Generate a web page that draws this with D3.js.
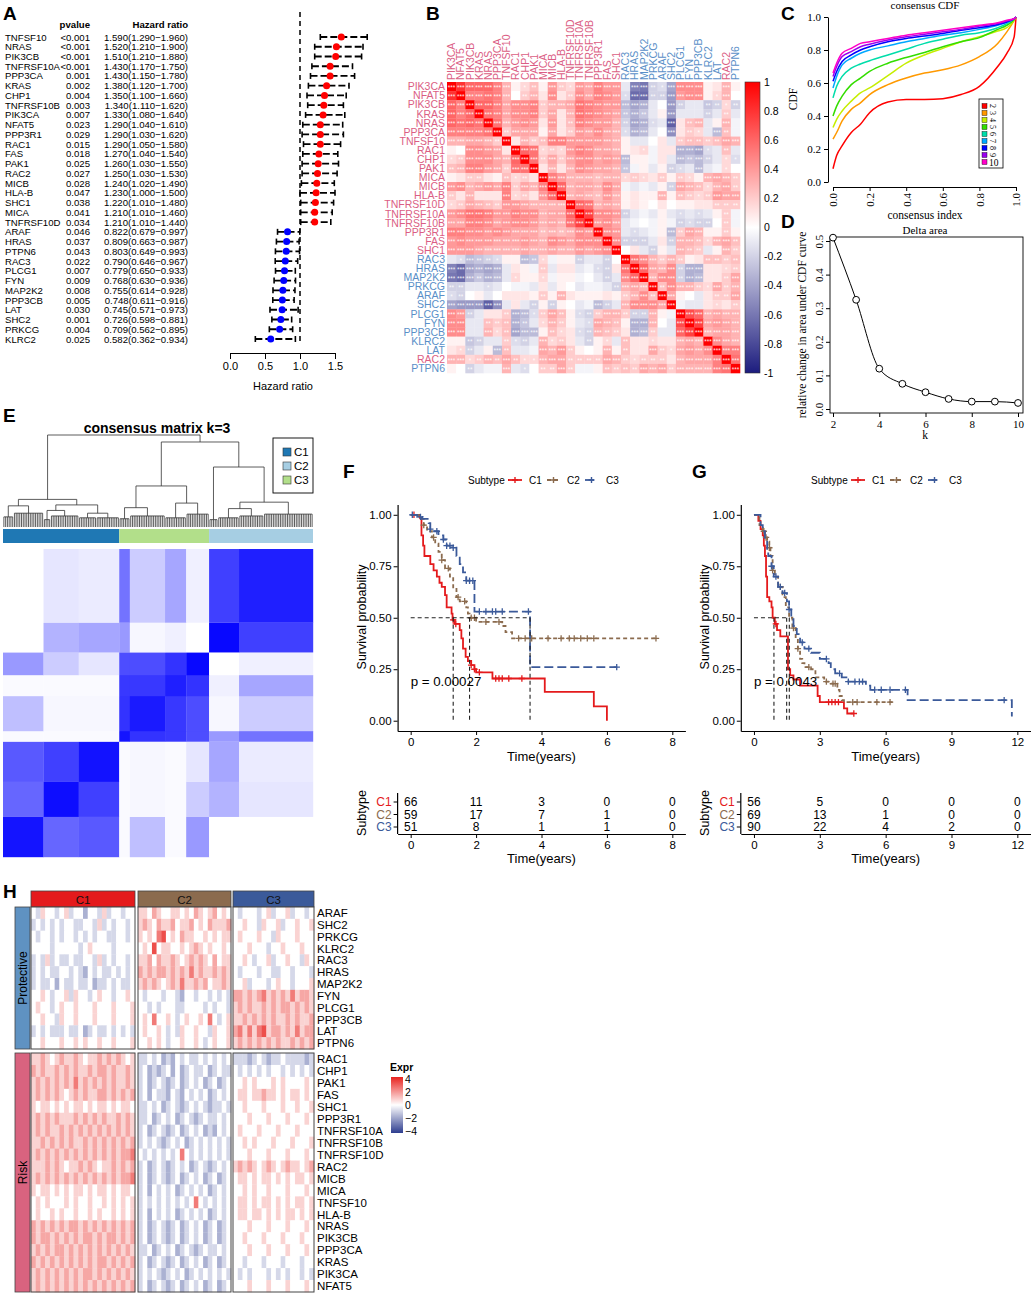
<!DOCTYPE html>
<html>
<head>
<meta charset="utf-8">
<script src="https://cdn.jsdelivr.net/npm/d3@7/dist/d3.min.js"></script>
<style>
html,body{margin:0;padding:0;background:#fff;}
svg{display:block;font-family:"Liberation Sans",Arial,Helvetica,sans-serif;}
</style>
</head>
<body>
<svg id="fig" width="1031" height="1295"></svg>
<script>
// ================= DATA =================
// ---- Panel A: univariate Cox forest ----
const forestGenes = ["TNFSF10","NRAS","PIK3CB","TNFRSF10A","PPP3CA","KRAS","CHP1","TNFRSF10B","PIK3CA","NFAT5","PPP3R1","RAC1","FAS","PAK1","RAC2","MICB","HLA-B","SHC1","MICA","TNFRSF10D","ARAF","HRAS","PTPN6","RAC3","PLCG1","FYN","MAP2K2","PPP3CB","LAT","SHC2","PRKCG","KLRC2"];
const forestP = ["<0.001","<0.001","<0.001","<0.001","0.001","0.002","0.004","0.003","0.007","0.023","0.029","0.015","0.018","0.025","0.027","0.028","0.047","0.038","0.041","0.034","0.046","0.037","0.043","0.022","0.007","0.009","0.008","0.005","0.030","0.001","0.004","0.025"];
const forestHR = [1.590,1.520,1.510,1.430,1.430,1.380,1.350,1.340,1.330,1.290,1.290,1.290,1.270,1.260,1.250,1.240,1.230,1.220,1.210,1.210,0.822,0.809,0.803,0.790,0.779,0.768,0.755,0.748,0.745,0.726,0.709,0.582];
const forestLow = [1.290,1.210,1.210,1.170,1.150,1.120,1.100,1.110,1.080,1.040,1.030,1.050,1.040,1.030,1.030,1.020,1.000,1.010,1.010,1.010,0.679,0.663,0.649,0.646,0.650,0.630,0.614,0.611,0.571,0.598,0.562,0.362];
const forestHigh = [1.960,1.900,1.880,1.750,1.780,1.700,1.660,1.620,1.640,1.610,1.620,1.580,1.540,1.550,1.530,1.490,1.500,1.480,1.460,1.440,0.997,0.987,0.993,0.967,0.933,0.936,0.928,0.916,0.973,0.881,0.895,0.934];
const forestTicks = [0,0.5,1,1.5];

// ---- Panel B: correlation matrix (upper triangle, row i: columns i+1..end) ----
const corrGenes = ["PIK3CA","NFAT5","PIK3CB","KRAS","NRAS","PPP3CA","TNFSF10","RAC1","CHP1","PAK1","MICA","MICB","HLA-B","TNFRSF10D","TNFRSF10A","TNFRSF10B","PPP3R1","FAS","SHC1","RAC3","HRAS","MAP2K2","PRKCG","ARAF","SHC2","PLCG1","FYN","PPP3CB","KLRC2","LAT","RAC2","PTPN6"];
const corrRiskGenes = ["PIK3CA","NFAT5","PIK3CB","KRAS","NRAS","PPP3CA","TNFSF10","RAC1","CHP1","PAK1","MICA","MICB","HLA-B","TNFRSF10D","TNFRSF10A","TNFRSF10B","PPP3R1","FAS","SHC1","RAC2"];
const corrUpper = [
 [.8,.6,.6,.6,.5,.3,.05,.15,.25,.05,.4,.2,.15,.4,.35,.5,.4,.4,-.1,-.55,-.6,-.2,-.15,-.4,.45,.45,.45,.05,.1,.3,.05],
 [.5,.5,.55,.5,.3,0,.2,.3,.1,.45,.1,.2,.45,.35,.5,.45,.4,-.15,-.65,-.65,-.2,-.2,-.45,.4,.45,.45,.05,.15,.3,0],
 [.6,.6,.5,.35,.45,.45,.5,.2,.3,.3,.35,.55,.5,.45,.4,.4,-.3,-.4,-.35,-.1,0,-.45,-.2,-.1,-.1,-.25,-.2,.15,-.2],
 [.55,.5,.35,.45,.45,.5,.2,.35,.1,.3,.55,.5,.45,.4,.35,-.25,-.35,-.25,-.1,.05,-.45,-.1,-.1,-.1,-.2,-.1,.2,-.1],
 [.55,.3,.4,.45,.4,.1,.4,.1,.25,.5,.45,.4,.4,.3,-.2,-.4,-.35,-.15,-.1,-.7,.1,.25,.3,-.1,.05,.3,-.05],
 [.2,.35,.35,.35,.05,.35,.1,.2,.4,.35,.45,.35,.3,-.15,-.35,-.3,-.1,0,-.5,.1,.2,.15,-.1,-.3,.25,-.05],
 [.1,.3,.2,.25,.5,.5,.4,.4,.4,.4,.35,.3,.05,-.1,-.1,0,.1,-.1,.2,.25,.25,.2,.25,.35,.3],
 [.6,.55,.15,.2,.15,.4,.5,.45,.35,.35,.3,.05,.1,.15,-.05,.1,.1,-.35,-.35,-.4,-.15,-.1,.25,-.1],
 [.55,.2,.35,.2,.35,.45,.45,.35,.4,.35,-.3,.05,.05,-.05,.1,-.1,-.3,-.25,-.3,-.2,-.1,.15,-.15],
 [.1,.3,.1,.3,.45,.4,.35,.35,.3,-.25,-.05,.05,-.1,.05,-.2,-.15,-.1,-.3,-.1,-.05,.15,0],
 [.5,.4,.3,.3,.3,.25,.3,.3,.15,.2,.15,.1,.2,.05,.2,.15,.05,.3,.35,.3,.2],
 [.6,.3,.35,.35,.3,.45,.35,-.05,-.1,-.05,-.1,.05,-.2,.35,.3,.25,.15,.3,.35,.2],
 [.3,.35,.3,.25,.4,.3,.05,.1,.05,.05,.3,.05,.25,.2,.15,.2,.4,.35,.35],
 [.6,.55,.3,.35,.3,.05,.1,.05,0,.1,0,.05,.05,.1,.1,.2,.2,.2],
 [.75,.45,.45,.4,-.2,-.1,-.05,-.1,.05,-.1,-.15,-.1,-.15,-.1,.05,.2,-.05],
 [.4,.45,.35,-.1,-.05,0,-.05,.05,-.05,-.2,-.15,-.2,-.2,0,.2,-.05],
 [.45,.4,-.1,-.15,-.1,-.05,.05,-.3,.2,.35,.3,.05,.05,.2,.05],
 [.45,-.2,-.2,-.2,-.1,.1,-.2,.3,.3,.25,.15,.3,.35,.25],
 [0,.1,-.1,-.2,.05,-.1,.3,.25,.2,-.1,.05,.3,.2],
 [.55,.45,.3,.2,.3,.2,.05,.1,.25,.25,.2,.25],
 [.6,.35,.3,.45,-.2,-.35,-.35,.1,.1,.15,.2],
 [.3,.45,.45,-.2,-.35,-.3,.1,.1,.2,.35],
 [.25,.45,.3,.3,.2,.15,.35,.2,.3],
 [.35,.05,0,-.1,.1,.2,.2,.35],
 [-.05,-.1,-.1,.1,.15,.1,.2],
 [.7,.6,.3,.35,.3,.3],
 [.75,.35,.4,.35,.3],
 [.3,.35,.35,.3],
 [.45,.35,.3],
 [.5,.5],
 [.55]
];
const corrTicks = [1,0.8,0.6,0.4,0.2,0,-0.2,-0.4,-0.6,-0.8,-1];

// ---- Panel C: consensus CDF ----
const cdfK = [2,3,4,5,6,7,8,9,10];
const cdfX = [0,0.02,0.05,0.1,0.15,0.2,0.3,0.4,0.5,0.6,0.7,0.8,0.9,0.95,0.99,1];
const cdfY = [
 [.08,.16,.22,.30,.35,.42,.485,.50,.50,.505,.53,.58,.70,.78,.88,1],
 [.26,.30,.37,.44,.48,.53,.59,.63,.66,.68,.71,.76,.84,.91,.98,1],
 [.33,.38,.43,.49,.54,.57,.645,.72,.77,.81,.85,.88,.915,.935,.98,1],
 [.40,.46,.52,.59,.63,.67,.72,.755,.785,.82,.85,.875,.925,.95,.985,1],
 [.51,.58,.64,.69,.715,.735,.77,.805,.84,.865,.89,.905,.935,.96,.99,1],
 [.57,.64,.71,.75,.78,.80,.825,.85,.87,.89,.905,.925,.95,.97,.99,1],
 [.61,.67,.73,.77,.80,.82,.85,.87,.885,.90,.92,.935,.955,.97,.99,1],
 [.64,.70,.76,.79,.82,.835,.86,.88,.895,.91,.925,.945,.96,.975,.99,1],
 [.66,.72,.78,.81,.84,.85,.87,.89,.905,.92,.935,.95,.965,.98,.99,1]
];
const cdfColors = ["#FF0000","#FF9900","#C6EE00","#33DD00","#00DDAA","#00A8FF","#0000FF","#9A00EE","#FF00C8"];

// ---- Panel D: delta area ----
const deltaK = [2,3,4,5,6,7,8,9,10];
const deltaArea = [0.51,0.325,0.12,0.075,0.05,0.03,0.022,0.022,0.018];

// ---- Panel E: consensus matrix k=3 ----
const consClusters = ["C1","C2","C3"];
const consClusterColors = ["#1F78B4","#A6CEE3","#B2DF8A"];
const consBarOrder = ["C1","C3","C2"];
const consBarSizes = [66,51,59];
const consGroupSizes = [23,20,23,6,20,12,13,17,42];
const consMean = [
 [.92,.60,.65,.02,.25,.02,.40,.00,.00],
 [.60,.95,.75,.02,.03,.02,.20,.30,.10],
 [.65,.75,.93,.02,.03,.02,.10,.35,.08],
 [.02,.02,.02,.92,.80,.78,.70,.40,.55],
 [.25,.03,.03,.80,.90,.78,.70,.03,.20],
 [.02,.02,.02,.78,.78,.88,.80,.06,.35],
 [.40,.20,.10,.70,.70,.80,.97,.00,.06],
 [.00,.30,.35,.40,.03,.06,.00,.97,.75],
 [.00,.10,.08,.55,.20,.35,.06,.75,.88]
];
const consTree = {h:1.0, c:[
  {h:0.30, c:[
     {h:0.23, c:[{n:6,h:0.11},{n:17,h:0.15}]},
     {h:0.24, c:[
        {h:0.18, c:[{n:4,h:0.08},{n:16,h:0.12}]},
        {h:0.15, c:[{n:10,h:0.10},{n:13,h:0.10}]}]}]},
  {h:0.924, c:[
     {h:0.446, c:[
        {h:0.21, c:[{n:6,h:0.09},{n:20,h:0.12}]},
        {h:0.26, c:[{n:12,h:0.10},{n:13,h:0.14}]}]},
     {h:0.652, c:[
        {n:5,h:0.08},
        {h:0.27, c:[
           {h:0.20, c:[{n:12,h:0.10},{n:14,h:0.12}]},
           {n:28,h:0.14}]}]}]}]};

// ---- Panels F, G: Kaplan-Meier ----
const kmGroups = ["C1","C2","C3"];
const kmColors = ["#E41A1C","#8B6B4E","#3B5A9A"];
const fStepsC1 = [[0,1],[0.28,0.985],[0.33,0.90],[0.38,0.85],[0.42,0.80],[0.6,0.76],[0.7,0.73],[0.8,0.70],[0.88,0.67],[0.95,0.65],[1.05,0.61],[1.1,0.55],[1.25,0.52],[1.28,0.49],[1.35,0.47],[1.5,0.44],[1.55,0.40],[1.6,0.35],[1.68,0.31],[1.75,0.29],[1.85,0.27],[1.95,0.25],[2.0,0.235],[2.5,0.205],[4.1,0.14],[5.6,0.07],[6.0,0.0]];
const fStepsC2 = [[0,1],[0.25,0.98],[0.4,0.95],[0.5,0.92],[0.65,0.89],[0.75,0.86],[0.85,0.82],[0.95,0.78],[1.05,0.74],[1.2,0.70],[1.3,0.64],[1.4,0.60],[1.5,0.58],[1.7,0.55],[1.75,0.52],[1.8,0.50],[2.0,0.48],[2.8,0.46],[2.9,0.43],[3.1,0.40]];
const fStepsC3 = [[0,1],[0.2,0.99],[0.35,0.98],[0.55,0.96],[0.6,0.93],[0.65,0.92],[0.85,0.90],[1.0,0.88],[1.1,0.85],[1.3,0.84],[1.4,0.80],[1.5,0.76],[1.6,0.72],[1.7,0.68],[1.95,0.53],[3.65,0.26]];
const fEnd = [6.0,7.5,6.3];
const fCensC1 = [0.1,1.3,1.38,1.85,1.95,2.1,2.6,2.7,2.8,3.0,3.4];
const fCensC2 = [0.4,0.7,0.95,1.15,1.45,1.65,1.85,1.95,2.3,2.7,3.3,3.5,3.7,4.2,4.6,4.85,5.0,5.2,5.4,5.6,7.5];
const fCensC3 = [0.05,0.3,0.6,0.8,1.0,1.1,1.2,1.3,1.7,1.8,1.9,2.1,2.3,2.5,2.6,2.8,3.6,6.3];
const fMedians = [1.3,1.8,3.65];
const fTicks = [0,2,4,6,8];
const fRisk = [[66,11,3,0,0],[59,17,7,1,0],[51,8,1,1,0]];
const fPval = "p = 0.00027";

const gStepsC1 = [[0,1],[0.2,0.97],[0.3,0.93],[0.4,0.90],[0.45,0.85],[0.5,0.80],[0.55,0.70],[0.6,0.60],[0.7,0.58],[0.8,0.55],[0.85,0.50],[0.95,0.47],[1.05,0.44],[1.2,0.41],[1.55,0.25],[1.65,0.22],[1.8,0.20],[2.1,0.17],[2.9,0.12],[3.0,0.09],[4.1,0.06],[4.25,0.035]];
const gStepsC2 = [[0,1],[0.25,0.95],[0.4,0.92],[0.5,0.89],[0.6,0.87],[0.7,0.84],[0.75,0.80],[0.85,0.73],[0.95,0.70],[1.1,0.65],[1.3,0.60],[1.45,0.55],[1.6,0.50],[1.75,0.45],[1.9,0.40],[2.0,0.35],[2.1,0.30],[2.2,0.28],[2.3,0.26],[2.6,0.25],[2.8,0.21],[3.2,0.19],[3.5,0.18],[3.8,0.15],[3.9,0.12],[4.0,0.10],[4.1,0.09]];
const gStepsC3 = [[0,1],[0.3,0.95],[0.4,0.92],[0.5,0.88],[0.6,0.82],[0.65,0.80],[0.8,0.75],[0.9,0.70],[1.1,0.65],[1.3,0.62],[1.5,0.58],[1.6,0.54],[1.7,0.50],[1.8,0.46],[1.95,0.42],[2.1,0.38],[2.3,0.35],[2.6,0.33],[3.0,0.30],[3.4,0.28],[3.5,0.25],[3.7,0.23],[4.0,0.21],[4.3,0.19],[5.1,0.17],[5.3,0.15],[7.0,0.10],[11.75,0.02]];
const gEnd = [4.55,6.4,11.75];
const gCensC1 = [1.0,3.4,3.55,3.7,3.85,4.55];
const gCensC2 = [0.45,0.55,0.7,0.85,1.2,1.8,2.0,2.5,3.3,3.6,3.7,4.5,4.7,5.6,6.2];
const gCensC3 = [0.8,1.0,1.2,1.4,1.6,2.2,2.5,3.3,3.9,4.3,4.6,4.8,4.95,5.5,5.8,6.2,6.9,11.4];
const gMedians = [0.91,1.61,1.49];
const gTicks = [0,3,6,9,12];
const gRisk = [[56,5,0,0,0],[69,13,1,0,0],[90,22,4,2,0]];
const gPval = "p = 0.0043";

// ---- Panel H: expression heatmap (each char: level 0..8, 4 = 0; segments C1|C2|C3) ----
const hProtective = ["ARAF","SHC2","PRKCG","KLRC2","RAC3","HRAS","MAP2K2","FYN","PLCG1","PPP3CB","LAT","PTPN6"];
const hRisk = ["RAC1","CHP1","PAK1","FAS","SHC1","PPP3R1","TNFRSF10A","TNFRSF10B","TNFRSF10D","RAC2","MICB","MICA","TNFSF10","HLA-B","NRAS","PIK3CB","PPP3CA","KRAS","PIK3CA","NFAT5"];
const hExprProtective = [
 "4354434534424435344344|55465445545465456454|43444345344534434",
 "3434343443344353434434|56546556455645465556|44544354453445445",
 "4344343443434344334434|54547845465544545455|45444544354445444",
 "4444344444345444434444|45484554454565454454|44454443445444544",
 "3435343343344353434434|55646556545656546455|44543445344544354",
 "3434334434324343343434|65656656565756556565|43444344334434443",
 "3433424334334233434334|56565456575565645565|44534443454434445",
 "4454344535443454434454|43444344324434434343|66565675656575665",
 "4544345445444544454445|44343444334444343443|56565565656656565",
 "4454435445444544454445|45474454345445474345|55656565655656556",
 "3434333433423433434343|45445434354454435445|67575785665657566",
 "4454445445454454454445|44545434454454345445|56565656565565656"
];
const hExprRisk = [
 "5565456556545565656545|33434232434334343434|33323432334333323",
 "6565565656556566565565|34232342423433423433|43434343443434343",
 "5656565657565656565565|34234323423434234234|44545444545444454",
 "5656565456565566565656|34243324324343423434|45545565545455454",
 "5455454545545455454554|33434234323434323343|44544454445445445",
 "5656565556565656556565|33423434234323433434|44454445444544454",
 "5656556565656565656565|34234323423434232434|45444544454445444",
 "5565656565565656565656|34343234342343434343|44545444544454445",
 "5656565656565656565667|43434343474343434343|44454445444544454",
 "5556565455656545565656|34234323434234323434|56565456545655456",
 "5656565656565656565667|34234323423434234234|45545455454545545",
 "5455454545545455454554|34243434234343423434|44545445444544454",
 "4545444545445445454545|34343434343474343434|45545455454545545",
 "4544545445445454454545|34243434234343423434|45545545454554545",
 "6565656566565656565656|34234323423434234234|44454445444544454",
 "6566565656566565665656|34234323423434234234|44544454445444544",
 "5656566565656565656565|33423434234323433434|44454445444544454",
 "6565656565656566565656|34234323423434234234|44344434443444344",
 "5656565656566565656565|34343234342343434343|43434443434344343",
 "5656565656565656565656|34234323423434234234|44454445444544454"
];
const hClusterColors = ["#E41A1C","#8B6B4E","#3B5A9A"];
const hLegendTicks = [4,2,0,-2,-4];

// ================= DRAWING =================
const svg = d3.select("#fig");
svg.append("rect").attr("width",1031).attr("height",1295).attr("fill","#fff");
const SERIF = "'Liberation Serif','Times New Roman',serif";

function panelLabel(t,x,y){
  svg.append("text").attr("x",x).attr("y",y).attr("font-size",19).attr("font-weight","bold").text(t);
}
function styleAxis(g,fs,fam){
  g.attr("font-family",fam||null).attr("font-size",fs);
  g.selectAll("text").attr("fill","#000");
  g.selectAll("line,path").attr("stroke","#000");
}
panelLabel("A",3,20); panelLabel("B",426,20); panelLabel("C",781,20); panelLabel("D",781,228);
panelLabel("E",3,422); panelLabel("F",343,478); panelLabel("G",692,478); panelLabel("H",3,898);

// ---------- A ----------
(function(){
  const g = svg.append("g");
  const FS = 9.6;
  const yA = d3.scalePoint().domain(d3.range(forestGenes.length)).range([37,339]);
  const xA = d3.scaleLinear().domain([0,1.5]).range([230,335]);
  g.append("text").attr("x",90).attr("y",28).attr("text-anchor","end").attr("font-size",FS).attr("font-weight","bold").text("pvalue");
  g.append("text").attr("x",188).attr("y",28).attr("text-anchor","end").attr("font-size",FS).attr("font-weight","bold").text("Hazard ratio");
  forestGenes.forEach((gn,i)=>{
    const y = yA(i)+3.5;
    g.append("text").attr("x",5).attr("y",y).attr("font-size",FS).text(gn);
    g.append("text").attr("x",90).attr("y",y).attr("text-anchor","end").attr("font-size",FS).text(forestP[i]);
    g.append("text").attr("x",188).attr("y",y).attr("text-anchor","end").attr("font-size",FS)
      .text(forestHR[i].toFixed(3)+"("+forestLow[i].toFixed(3)+"\u2212"+forestHigh[i].toFixed(3)+")");
  });
  g.append("line").attr("x1",xA(1)).attr("x2",xA(1)).attr("y1",12).attr("y2",345)
    .attr("stroke","#000").attr("stroke-width",1.5).attr("stroke-dasharray","5,4");
  forestGenes.forEach((gn,i)=>{
    const y = yA(i);
    g.append("line").attr("x1",xA(forestLow[i])).attr("x2",xA(forestHigh[i])).attr("y1",y).attr("y2",y)
      .attr("stroke","#000").attr("stroke-width",1.8).attr("stroke-dasharray","7,3");
    [forestLow[i],forestHigh[i]].forEach(v=>g.append("line").attr("x1",xA(v)).attr("x2",xA(v)).attr("y1",y-3).attr("y2",y+3).attr("stroke","#000").attr("stroke-width",1.6));
    g.append("circle").attr("cx",xA(forestHR[i])).attr("cy",y).attr("r",3.5).attr("fill",forestHR[i]>1?"#FF0000":"#0000FF");
  });
  const ax = g.append("g").attr("transform","translate(0,353)")
    .call(d3.axisBottom(xA).tickValues(forestTicks).tickFormat(d3.format(".1f")).tickSize(6).tickSizeOuter(0));
  styleAxis(ax,11);
  g.append("text").attr("x",283).attr("y",390).attr("text-anchor","middle").attr("font-size",11).text("Hazard ratio");
})();

// ---------- B ----------
(function(){
  const g = svg.append("g");
  const M = corrGenes.map((_,i)=>corrGenes.map((_,j)=>{
    if(i===j) return 1;
    const a=Math.min(i,j), b=Math.max(i,j);
    const row = corrUpper[a]||[]; const v = row[b-a-1];
    return v===undefined?0:v;
  }));
  const bx = d3.scaleBand().domain(corrGenes).range([447,740]);
  const by = d3.scaleBand().domain(corrGenes).range([82,373]);
  const col = d3.scaleLinear().domain([-1,0,1]).range(["#1C1C7E","#FFFFFF","#FF0000"]);
  const cells = [];
  corrGenes.forEach((r,i)=>corrGenes.forEach((c,j)=>cells.push({r,c,v:M[i][j]})));
  g.selectAll("rect.cell").data(cells).join("rect").attr("class","cell")
    .attr("x",d=>bx(d.c)).attr("y",d=>by(d.r)).attr("width",bx.bandwidth()+0.3).attr("height",by.bandwidth()+0.3)
    .attr("fill",d=>col(d.v));
  g.selectAll("text.star").data(cells.filter(d=>Math.abs(d.v)>=0.15)).join("text").attr("class","star")
    .attr("x",d=>bx(d.c)+bx.bandwidth()/2).attr("y",d=>by(d.r)+by.bandwidth()/2+3.2)
    .attr("text-anchor","middle").attr("font-size",6.5).attr("fill","#fff").attr("fill-opacity",0.9)
    .text(d=>Math.abs(d.v)>=0.3?"***":Math.abs(d.v)>=0.2?"**":"*");
  const riskSet = new Set(corrRiskGenes);
  const lc = gname => riskSet.has(gname)?"#DB5E84":"#5A8FC8";
  corrGenes.forEach(gn=>{
    g.append("text").attr("x",445).attr("y",by(gn)+by.bandwidth()/2+3.7).attr("text-anchor","end")
      .attr("font-size",10.5).attr("fill",lc(gn)).text(gn);
    g.append("text").attr("transform",`translate(${bx(gn)+bx.bandwidth()/2+3.7},80) rotate(-90)`)
      .attr("font-size",10.5).attr("fill",lc(gn)).text(gn);
  });
  const defs = svg.append("defs");
  const grad = defs.append("linearGradient").attr("id","corrGrad").attr("x1",0).attr("x2",0).attr("y1",0).attr("y2",1);
  [1,0.5,0,-0.5,-1].forEach(v=>grad.append("stop").attr("offset",((1-v)/2*100)+"%").attr("stop-color",col(v)));
  const cy = d3.scaleLinear().domain([-1,1]).range([373,82]);
  g.append("rect").attr("x",745).attr("y",82).attr("width",15).attr("height",291).attr("fill","url(#corrGrad)").attr("stroke","#333").attr("stroke-width",0.6);
  corrTicks.forEach(t=>{
    g.append("text").attr("x",764).attr("y",cy(t)+3.7).attr("font-size",10.5).text(String(+t.toFixed(1)));
  });
})();

// ---------- C ----------
(function(){
  const g = svg.append("g").attr("font-family",SERIF);
  const x = d3.scaleLinear().domain([0,1]).range([833,1016]);
  const y = d3.scaleLinear().domain([0,1]).range([182,17]);
  const line = d3.line().x((d,i)=>x(cdfX[i])).y(d=>y(d)).curve(d3.curveMonotoneX);
  cdfY.forEach((ys,k)=>g.append("path").attr("d",line(ys)).attr("fill","none").attr("stroke",cdfColors[k]).attr("stroke-width",1.5));
  const ay = g.append("g").attr("transform","translate(828,0)").call(d3.axisLeft(y).tickValues([0,.2,.4,.6,.8,1]).tickFormat(d3.format(".1f")).tickSize(4).tickSizeOuter(0));
  styleAxis(ay,11,SERIF);
  const ax = g.append("g").attr("transform","translate(0,187)").call(d3.axisBottom(x).tickValues([0,.2,.4,.6,.8,1]).tickFormat(d3.format(".1f")).tickSize(4).tickSizeOuter(0));
  styleAxis(ax,11,SERIF);
  ax.selectAll("text").attr("transform","rotate(-90)").attr("text-anchor","end").attr("x",-6).attr("y",0).attr("dy","0.35em");
  g.append("text").attr("x",925).attr("y",9).attr("text-anchor","middle").attr("font-size",11).text("consensus CDF");
  g.append("text").attr("x",925).attr("y",219).attr("text-anchor","middle").attr("font-size",11.5).text("consensus index");
  g.append("text").attr("transform","translate(797,99) rotate(-90)").attr("text-anchor","middle").attr("font-size",11.5).text("CDF");
  g.append("rect").attr("x",979).attr("y",99).attr("width",24).attr("height",69).attr("fill","#fff").attr("stroke","#000").attr("stroke-width",0.8);
  const ly = d3.scalePoint().domain(cdfK).range([106,162]);
  cdfK.forEach((k,i)=>{
    g.append("rect").attr("x",982).attr("y",ly(k)-2.5).attr("width",5).attr("height",5).attr("fill",cdfColors[i]).attr("stroke","#000").attr("stroke-width",0.4);
    if(k<10) g.append("text").attr("transform",`translate(990,${ly(k)}) rotate(90)`).attr("text-anchor","middle").attr("font-size",8).text(k);
    else g.append("text").attr("x",989).attr("y",ly(k)+4).attr("font-size",9.5).text(k);
  });
})();

// ---------- D ----------
(function(){
  const g = svg.append("g").attr("font-family",SERIF);
  const x = d3.scaleLinear().domain([2,10]).range([833,1018]);
  const y = d3.scaleLinear().domain([0,0.5]).range([409,241]);
  g.append("rect").attr("x",830).attr("y",237).attr("width",193).attr("height",176).attr("fill","none").attr("stroke","#000").attr("stroke-width",0.9);
  const pts = deltaK.map((k,i)=>[x(k),y(deltaArea[i])]);
  g.append("path").attr("d",d3.line().curve(d3.curveMonotoneX)(pts)).attr("fill","none").attr("stroke","#000").attr("stroke-width",1);
  pts.forEach(p=>g.append("circle").attr("cx",p[0]).attr("cy",p[1]).attr("r",3.4).attr("fill","#fff").attr("stroke","#000").attr("stroke-width",1));
  const ay = g.append("g").attr("transform","translate(830,0)").call(d3.axisLeft(y).tickValues([0,.1,.2,.3,.4,.5]).tickFormat(d3.format(".1f")).tickSize(4).tickSizeOuter(0));
  styleAxis(ay,11,SERIF); ay.select("path").remove();
  ay.selectAll("text").attr("transform","rotate(-90)").attr("text-anchor","middle").attr("x",0).attr("y",-7).attr("dy",0);
  const ax = g.append("g").attr("transform","translate(0,413)").call(d3.axisBottom(x).tickValues([2,4,6,8,10]).tickSize(4).tickSizeOuter(0));
  styleAxis(ax,11,SERIF); ax.select("path").remove();
  g.append("text").attr("x",925).attr("y",234).attr("text-anchor","middle").attr("font-size",11).text("Delta area");
  g.append("text").attr("x",925).attr("y",439).attr("text-anchor","middle").attr("font-size",11.5).text("k");
  g.append("text").attr("transform","translate(806,325) rotate(-90)").attr("text-anchor","middle").attr("font-size",11.5).text("relative change in area under CDF curve");
})();

// ---------- E ----------
(function(){
  const g = svg.append("g");
  const N = d3.sum(consGroupSizes);
  const ex = d3.scaleLinear().domain([0,N]).range([3,313]);
  const ey = d3.scaleLinear().domain([0,N]).range([857,549]);
  const eh = d3.scaleLinear().domain([0,1]).range([527,435]);
  const starts = []; let acc=0; consGroupSizes.forEach(s=>{starts.push(acc);acc+=s;});
  const blue = d3.interpolateRgb("#FFFFFF","#0000FF");
  consGroupSizes.forEach((si,i)=>consGroupSizes.forEach((sj,j)=>{
    g.append("rect").attr("x",ex(starts[j])).attr("width",ex(sj)-ex(0)+0.2)
      .attr("y",ey(starts[i]+si)).attr("height",ey(0)-ey(si)+0.2).attr("fill",blue(consMean[i][j]));
  }));
  let bAcc=0;
  consBarOrder.forEach((c,i)=>{
    g.append("rect").attr("x",ex(bAcc)).attr("y",529).attr("width",ex(consBarSizes[i])-ex(0)).attr("height",14)
      .attr("fill",consClusterColors[consClusters.indexOf(c)]);
    bAcc+=consBarSizes[i];
  });
  let idx=0;
  function lay(nd){
    if(nd.n!==undefined){ nd.s0=idx; nd.s1=idx+nd.n; idx+=nd.n; nd.x=ex((nd.s0+nd.s1)/2); return; }
    nd.c.forEach(lay);
    nd.x=(nd.c[0].x+nd.c[nd.c.length-1].x)/2;
  }
  lay(consTree);
  const dg = g.append("g").attr("stroke","#333").attr("stroke-width",0.8).attr("fill","none");
  function drawNode(nd,ph){
    if(ph!==undefined) dg.append("line").attr("x1",nd.x).attr("x2",nd.x).attr("y1",eh(nd.h)).attr("y2",eh(ph));
    if(nd.n!==undefined){
      dg.append("line").attr("x1",ex(nd.s0+0.5)).attr("x2",ex(nd.s1-0.5)).attr("y1",eh(nd.h)).attr("y2",eh(nd.h));
      for(let s=nd.s0;s<nd.s1;s++) dg.append("line").attr("x1",ex(s+0.5)).attr("x2",ex(s+0.5)).attr("y1",eh(nd.h)).attr("y2",eh(0));
      return;
    }
    dg.append("line").attr("x1",nd.c[0].x).attr("x2",nd.c[nd.c.length-1].x).attr("y1",eh(nd.h)).attr("y2",eh(nd.h));
    nd.c.forEach(ch=>drawNode(ch,nd.h));
  }
  drawNode(consTree);
  g.append("text").attr("x",157).attr("y",433).attr("text-anchor","middle").attr("font-size",14).attr("font-weight","bold").text("consensus matrix k=3");
  g.append("rect").attr("x",273).attr("y",438).attr("width",40).attr("height",55).attr("fill","#fff").attr("stroke","#000").attr("stroke-width",0.9);
  consClusters.forEach((c,i)=>{
    const yy = 452+i*14;
    g.append("rect").attr("x",283).attr("y",yy-4).attr("width",8).attr("height",8).attr("fill",consClusterColors[i]).attr("stroke","#333").attr("stroke-width",0.6);
    g.append("text").attr("x",294).attr("y",yy+4).attr("font-size",11.5).text(c);
  });
})();

// ---------- F & G ----------
function survAt(steps,t){ let s=1; steps.forEach(p=>{ if(p[0]<=t) s=p[1]; }); return s; }
function drawKM(o){
  const g = svg.append("g");
  const TF = 11.5, LF = 13, YF = 12.5;
  const x = d3.scaleLinear().domain([-0.05*o.xmax,1.05*o.xmax]).range([o.left,o.right]);
  const y = d3.scaleLinear().domain([-0.05,1.05]).range([731,504.5]);
  const dashes = [null,"4,3","9,4"];
  const L = o.legX, ly=480;
  g.append("text").attr("x",L).attr("y",ly+3.5).attr("font-size",10).text("Subtype");
  const offs=[[40,54,61],[79,92,99],[117,130,138]];
  kmGroups.forEach((k,i)=>{
    g.append("line").attr("x1",L+offs[i][0]).attr("x2",L+offs[i][1]).attr("y1",ly).attr("y2",ly).attr("stroke",kmColors[i]).attr("stroke-width",1.8).attr("stroke-dasharray",dashes[i]);
    const cx=(L+offs[i][0]+L+offs[i][1])/2;
    g.append("path").attr("d",`M${cx-3},${ly}H${cx+3}M${cx},${ly-3}V${ly+3}`).attr("stroke",kmColors[i]).attr("stroke-width",1.4);
    g.append("text").attr("x",L+offs[i][2]).attr("y",ly+3.5).attr("font-size",10).text(k);
  });
  const ay = g.append("g").attr("transform",`translate(${o.left},0)`).call(d3.axisLeft(y).tickValues([0,.25,.5,.75,1]).tickFormat(d3.format(".2f")).tickSize(4).tickPadding(2).tickSizeOuter(0));
  styleAxis(ay,TF); ay.select("path").attr("stroke-width",1.2);
  const ax = g.append("g").attr("transform","translate(0,731)").call(d3.axisBottom(x).tickValues(o.ticks).tickSize(4).tickSizeOuter(0));
  styleAxis(ax,TF); ax.select("path").attr("stroke-width",1.2);
  g.append("text").attr("x",x(o.xmax/2)).attr("y",761).attr("text-anchor","middle").attr("font-size",LF).text("Time(years)");
  g.append("text").attr("transform",`translate(${o.ylabX},617) rotate(-90)`).attr("text-anchor","middle").attr("font-size",YF).text("Survival probability");
  const line = d3.line().x(d=>x(d[0])).y(d=>y(d[1])).curve(d3.curveStepAfter);
  o.steps.forEach((st,i)=>{
    const pts = st.concat([[o.ends[i], st[st.length-1][1]]]);
    g.append("path").attr("d",line(pts)).attr("fill","none").attr("stroke",kmColors[i]).attr("stroke-width",1.8).attr("stroke-dasharray",dashes[i]);
    o.cens[i].forEach(t=>{
      const cx=x(t), cy=y(survAt(st,t));
      g.append("path").attr("d",`M${cx-3.2},${cy}H${cx+3.2}M${cx},${cy-3.2}V${cy+3.2}`).attr("stroke",kmColors[i]).attr("stroke-width",1.3);
    });
  });
  const mmax = d3.max(o.medians);
  g.append("line").attr("x1",x(0)).attr("x2",x(mmax)).attr("y1",y(0.5)).attr("y2",y(0.5)).attr("stroke","#222").attr("stroke-width",1.1).attr("stroke-dasharray","4,3");
  o.medians.forEach(m=>g.append("line").attr("x1",x(m)).attr("x2",x(m)).attr("y1",y(0.5)).attr("y2",y(0)).attr("stroke","#222").attr("stroke-width",1.1).attr("stroke-dasharray","4,3"));
  g.append("text").attr("x",x(0)).attr("y",686).attr("font-size",13.3).text(o.pval);
  const ry = d3.scalePoint().domain(kmGroups).range([802,827]);
  g.append("line").attr("x1",o.left).attr("x2",o.left).attr("y1",793).attr("y2",834).attr("stroke","#000").attr("stroke-width",1.2);
  kmGroups.forEach((k,i)=>{
    g.append("line").attr("x1",o.left-4).attr("x2",o.left).attr("y1",ry(k)).attr("y2",ry(k)).attr("stroke","#000");
    g.append("text").attr("x",o.left-6).attr("y",ry(k)+4.2).attr("text-anchor","end").attr("font-size",TF+0.5).attr("fill",kmColors[i]).text(k);
    o.risk[i].forEach((v,j)=>g.append("text").attr("x",x(o.ticks[j])).attr("y",ry(k)+4.2).attr("text-anchor","middle").attr("font-size",TF+0.5).text(v));
  });
  const ax2 = g.append("g").attr("transform","translate(0,834)").call(d3.axisBottom(x).tickValues(o.ticks).tickSize(4).tickSizeOuter(0));
  styleAxis(ax2,TF); ax2.select("path").attr("stroke-width",1.2);
  g.append("text").attr("x",x(o.xmax/2)).attr("y",863).attr("text-anchor","middle").attr("font-size",LF).text("Time(years)");
  g.append("text").attr("transform",`translate(${o.ylabX},813) rotate(-90)`).attr("text-anchor","middle").attr("font-size",YF).text("Subtype");
}
drawKM({xmax:8,left:397.6,right:685.4,ticks:fTicks,legX:468,ylabX:366,steps:[fStepsC1,fStepsC2,fStepsC3],ends:fEnd,
  cens:[fCensC1,fCensC2,fCensC3],medians:fMedians,risk:fRisk,pval:fPval});
drawKM({xmax:12,left:740.8,right:1030.5,ticks:gTicks,legX:811,ylabX:709,steps:[gStepsC1,gStepsC2,gStepsC3],ends:gEnd,
  cens:[gCensC1,gCensC2,gCensC3],medians:gMedians,risk:gRisk,pval:gPval});

// ---------- H ----------
(function(){
  const g = svg.append("g");
  const slices = [[31,135],[138,231],[233,314]];
  const col = d3.scaleLinear().domain([-4,0,4]).range(["#2E3D8F","#FFFFFF","#E8231E"]);
  const blocks = [
    {genes:hProtective, data:hExprProtective, y0:907, y1:1049, name:"Protective", color:"#5F92C2"},
    {genes:hRisk, data:hExprRisk, y0:1053, y1:1292, name:"Risk", color:"#D9637F"}
  ];
  kmGroups.forEach((k,i)=>{
    g.append("rect").attr("x",slices[i][0]).attr("y",891).attr("width",slices[i][1]-slices[i][0]).attr("height",16)
      .attr("fill",hClusterColors[i]).attr("stroke","#444").attr("stroke-width",0.8);
    g.append("text").attr("x",(slices[i][0]+slices[i][1])/2).attr("y",903.5).attr("text-anchor","middle").attr("font-size",11.5).attr("fill","#111").text(k);
  });
  blocks.forEach(b=>{
    const yb = d3.scaleBand().domain(b.genes).range([b.y0,b.y1]);
    b.genes.forEach((gn,r)=>{
      const segs = b.data[r].split("|");
      segs.forEach((s,si)=>{
        const [x0,x1]=slices[si]; const w=(x1-x0)/s.length;
        for(let c=0;c<s.length;c++){
          g.append("rect").attr("x",x0+c*w).attr("y",yb(gn)).attr("width",w+0.3).attr("height",yb.bandwidth()+0.3)
            .attr("fill",col((+s[c]-4)*0.8));
        }
      });
      g.append("text").attr("x",317).attr("y",yb(gn)+yb.bandwidth()/2+4.2).attr("font-size",11.5).text(gn);
    });
    slices.forEach(sl=>g.append("rect").attr("x",sl[0]).attr("y",b.y0).attr("width",sl[1]-sl[0]).attr("height",b.y1-b.y0)
      .attr("fill","none").attr("stroke","#444").attr("stroke-width",1));
    g.append("rect").attr("x",15).attr("y",b.y0).attr("width",15).attr("height",b.y1-b.y0).attr("fill",b.color).attr("stroke","#444").attr("stroke-width",0.8);
    g.append("text").attr("transform",`translate(27,${(b.y0+b.y1)/2}) rotate(-90)`).attr("text-anchor","middle").attr("font-size",12).text(b.name);
  });
  const defs = svg.append("defs");
  const grad = defs.append("linearGradient").attr("id","exprGrad").attr("x1",0).attr("x2",0).attr("y1",0).attr("y2",1);
  [4,2,0,-2,-4].forEach((v,i)=>grad.append("stop").attr("offset",(i*25)+"%").attr("stop-color",col(v)));
  g.append("text").attr("x",390).attr("y",1071).attr("font-size",10.5).attr("font-weight","bold").text("Expr");
  g.append("rect").attr("x",391).attr("y",1077).attr("width",12).attr("height",56).attr("fill","url(#exprGrad)");
  const ly = d3.scaleLinear().domain([4,-4]).range([1079,1131]);
  hLegendTicks.forEach(t=>g.append("text").attr("x",405).attr("y",ly(t)+3.5).attr("font-size",10.5).text(t<0?"\u2212"+(-t):t));
})();
</script>
</body>
</html>
